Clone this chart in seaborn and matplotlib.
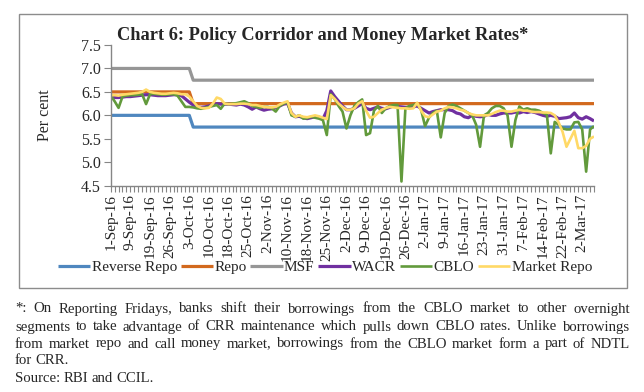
import numpy as np
import pandas as pd
import matplotlib
matplotlib.use("Agg")
import matplotlib.pyplot as plt
import seaborn as sns
from matplotlib.patches import Rectangle

# ---------------- data ----------------
tick_labels = ["1-Sep-16", "9-Sep-16", "19-Sep-16", "26-Sep-16", "3-Oct-16", "10-Oct-16",
               "18-Oct-16", "25-Oct-16", "2-Nov-16", "10-Nov-16", "18-Nov-16", "25-Nov-16",
               "2-Dec-16", "9-Dec-16", "19-Dec-16", "26-Dec-16", "2-Jan-17", "9-Jan-17",
               "16-Jan-17", "23-Jan-17", "31-Jan-17", "7-Feb-17", "14-Feb-17", "22-Feb-17",
               "2-Mar-17"]
n_days = 124
policy_change_index = 21  # first observation after the 4-Oct-16 cut

reverse_repo_before, reverse_repo_after = 6.00, 5.75
repo_before, repo_after = 6.50, 6.25
msf_before, msf_after = 7.00, 6.75

wacr = [6.40, 6.38, 6.38, 6.39, 6.40, 6.40, 6.41, 6.42, 6.43, 6.44,
        6.44, 6.43, 6.42, 6.42, 6.42, 6.43, 6.44, 6.44, 6.42, 6.35,
        6.28, 6.22, 6.18, 6.17, 6.18, 6.20, 6.22, 6.25, 6.24, 6.24,
        6.24, 6.23, 6.22, 6.24, 6.22, 6.18, 6.13, 6.18, 6.14, 6.11,
        6.13, 6.14, 6.16, 6.20, 6.24, 6.26, 6.05, 5.97, 5.98, 5.95,
        5.93, 5.95, 5.97, 5.96, 5.92, 6.10, 6.52, 6.40, 6.30, 6.20,
        6.12, 6.12, 6.15, 6.20, 6.25, 6.15, 6.12, 6.15, 6.18, 6.15,
        6.14, 6.17, 6.20, 6.19, 6.18, 6.17, 6.17, 6.18, 6.20, 6.15,
        6.10, 6.05, 6.08, 6.10, 6.12, 6.12, 6.12, 6.10, 6.05, 6.03,
        5.97, 5.95, 6.00, 5.98, 5.97, 5.98, 6.02, 6.00, 6.00, 6.03,
        6.05, 6.05, 6.05, 6.07, 6.05, 6.08, 6.06, 6.08, 6.06, 6.03,
        6.00, 5.98, 6.00, 5.98, 5.93, 5.94, 5.95, 5.97, 6.05, 5.95,
        5.92, 5.97, 5.93, 5.88]

cblo = [6.42, 6.30, 6.16, 6.40, 6.42, 6.43, 6.43, 6.44, 6.45, 6.24,
        6.45, 6.46, 6.45, 6.44, 6.44, 6.45, 6.45, 6.42, 6.30, 6.18,
        6.18, 6.17, 6.15, 6.14, 6.16, 6.18, 6.20, 6.22, 6.14, 6.25,
        6.24, 6.25, 6.26, 6.28, 6.30, 6.26, 6.20, 6.18, 6.16, 6.18,
        6.18, 6.15, 6.08, 6.20, 6.25, 6.28, 6.00, 5.97, 6.00, 5.93,
        5.94, 5.97, 5.95, 5.93, 5.90, 5.58, 6.45, 6.35, 6.20, 6.08,
        5.72, 6.00, 6.20, 6.28, 6.34, 5.58, 5.62, 6.10, 6.20, 6.05,
        6.15, 6.20, 6.22, 6.22, 4.59, 6.15, 6.20, 6.22, 6.25, 6.12,
        5.77, 5.95, 6.05, 6.10, 5.53, 6.05, 6.20, 6.23, 6.20, 6.15,
        6.10, 6.05, 6.00, 5.80, 5.33, 6.00, 6.05, 6.15, 6.20, 6.20,
        6.15, 6.00, 5.33, 5.90, 6.19, 6.12, 6.15, 6.12, 6.12, 6.10,
        6.05, 6.02, 5.19, 5.86, 5.80, 5.72, 5.70, 5.70, 5.85, 5.86,
        5.70, 4.80, 5.70, 5.77]

market_repo = [6.43, 6.43, 6.42, 6.44, 6.45, 6.46, 6.47, 6.48, 6.50, 6.55,
               6.50, 6.48, 6.47, 6.46, 6.46, 6.47, 6.48, 6.47, 6.45, 6.45,
               6.40, 6.30, 6.20, 6.16, 6.15, 6.16, 6.25, 6.38, 6.35, 6.25,
               6.24, 6.24, 6.24, 6.25, 6.25, 6.24, 6.22, 6.22, 6.20, 6.18,
               6.17, 6.17, 6.18, 6.23, 6.27, 6.30, 6.05, 5.97, 6.00, 5.97,
               5.96, 5.98, 6.00, 5.98, 5.95, 5.92, 6.43, 6.35, 6.25, 6.18,
               6.12, 6.12, 6.15, 6.25, 6.30, 6.10, 5.95, 5.97, 6.05, 6.12,
               6.16, 6.18, 6.17, 6.16, 6.15, 6.15, 6.14, 6.15, 6.27, 6.10,
               5.98, 5.96, 6.02, 6.08, 6.10, 6.15, 6.18, 6.17, 6.15, 6.12,
               6.10, 6.05, 6.02, 6.00, 6.00, 6.00, 6.00, 6.03, 6.07, 6.10,
               6.10, 6.08, 6.08, 6.10, 6.12, 6.10, 6.10, 6.08, 6.07, 6.07,
               6.06, 6.06, 6.05, 6.00, 5.85, 5.65, 5.33, 5.50, 5.67, 5.30,
               5.30, 5.35, 5.50, 5.55]

series_names = ["Reverse Repo", "Repo", "MSF", "WACR", "CBLO", "Market Repo"]
colors = ["#4F87BF", "#D2691E", "#969696", "#7030A0", "#629A3C", "#FFD966"]
widths = [2.3, 2.3, 2.3, 2.3, 1.9, 1.9]

footnote_lines = [
    "*: On Reporting Fridays, banks shift their borrowings from the CBLO market to other overnight",
    "segments to take advantage of CRR maintenance which pulls down CBLO rates. Unlike borrowings",
    "from market repo and call money market, borrowings from the CBLO market form a part of NDTL",
    "for CRR.",
    "Source: RBI and CCIL.",
]

# ---------------- build frame ----------------
idx = np.arange(n_days)
rev = np.where(idx < policy_change_index, reverse_repo_before, reverse_repo_after)
rep = np.where(idx < policy_change_index, repo_before, repo_after)
msf = np.where(idx < policy_change_index, msf_before, msf_after)
df = pd.DataFrame({"idx": idx, "Reverse Repo": rev, "Repo": rep, "MSF": msf,
                   "WACR": wacr, "CBLO": cblo, "Market Repo": market_repo})

sns.set_theme(style="white")
plt.rcParams["font.family"] = ["Liberation Serif", "DejaVu Serif"]

W, H = 644, 392
fig = plt.figure(figsize=(W / 100, H / 100), dpi=100)
fig.patch.set_facecolor("white")
ax = fig.add_axes([110.7 / W, 1 - 185.7 / H, (594 - 110.7) / W, (185.7 - 45) / H])

for name, c, lw in zip(series_names, colors, widths):
    sns.lineplot(data=df, x="idx", y=name, ax=ax, color=c, linewidth=lw, label=name,
                 legend=False, solid_joinstyle="round", solid_capstyle="butt")

ax.set_xlim(0, n_days - 1)
ax.set_ylim(4.5, 7.5)
ax.set_yticks(np.arange(4.5, 7.51, 0.5))
ax.set_yticklabels([f"{v:.1f}" for v in np.arange(4.5, 7.51, 0.5)], fontsize=11.5)
xt_labels = ["" for _ in range(n_days)]
for k, lab in enumerate(tick_labels):
    xt_labels[k * 5] = lab
ax.set_xticks(idx)
ax.set_xticklabels(xt_labels, rotation=90, fontsize=11)
ax.tick_params(axis="x", length=4, width=0.8, color="#868686", pad=2, direction="out", bottom=True)
ax.tick_params(axis="y", length=5, width=0.8, color="#868686", pad=2, direction="out", left=True)
ax.set_xlabel("")
ax.set_ylabel("Per cent", fontsize=11.5, labelpad=20)
for s in ["top", "right"]:
    ax.spines[s].set_visible(False)
for s in ["left", "bottom"]:
    ax.spines[s].set_color("#868686")
    ax.spines[s].set_linewidth(1.0)
ax.grid(False)

fig.text(323 / W, 1 - 36 / H, "Chart 6: Policy Corridor and Money Market Rates*",
         fontsize=13.2, fontweight="bold", ha="center", va="center")

handles, labels = ax.get_legend_handles_labels()
fig.legend(handles, labels, loc="center", bbox_to_anchor=(325 / W, 1 - 267 / H), ncol=6,
           frameon=False, fontsize=11, handlelength=2.1, handletextpad=0.1,
           columnspacing=0.25, borderaxespad=0)

# chart border
fig.patches.append(Rectangle((18.5 / W, 1 - 288 / H), (627 - 18.5) / W, (288 - 13.5) / H,
                             transform=fig.transFigure, fill=False, edgecolor="#8C8C8C",
                             linewidth=1.0))

# justified footnote
renderer = fig.canvas.get_renderer()
x0, x1 = 15.0, 630.0
ys = [309, 327, 344, 361, 378]
for li, (line, yp) in enumerate(zip(footnote_lines, ys)):
    words = line.split()
    texts = [fig.text(0, 1 - yp / H, w, fontsize=10.6, ha="left", va="center") for w in words]
    wd = [t.get_window_extent(renderer).width for t in texts]
    if li < 3:
        gap = (x1 - x0 - sum(wd)) / (len(words) - 1)
    else:
        gap = 3.4
    x = x0
    for t, w in zip(texts, wd):
        t.set_x(x / W)
        x += w + gap

fig.savefig("out.png", dpi=100)
